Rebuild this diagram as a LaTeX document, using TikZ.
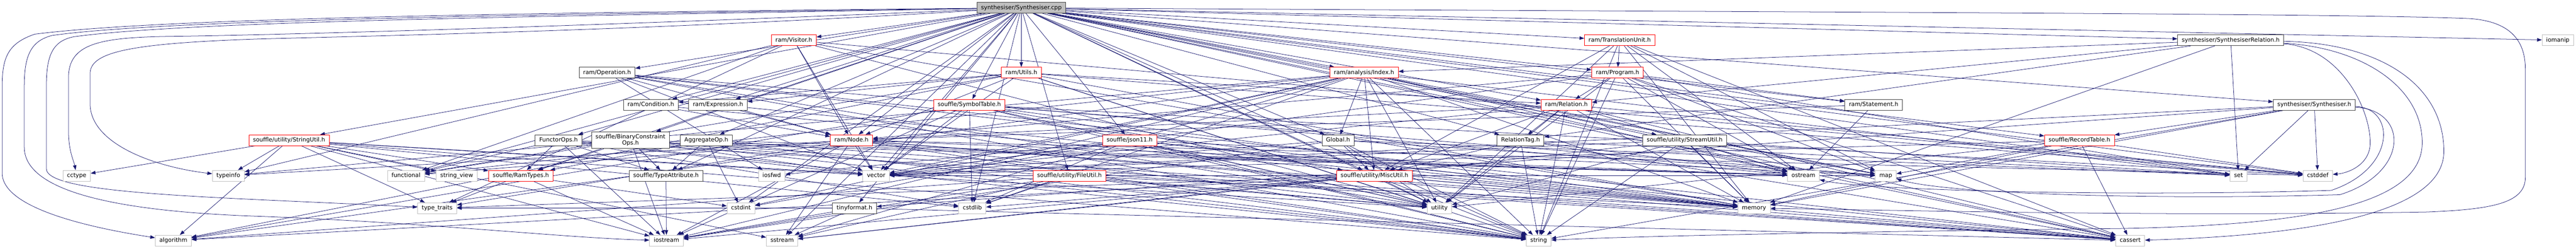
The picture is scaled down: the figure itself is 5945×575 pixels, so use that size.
\documentclass[tikz,border=0pt]{standalone}
\usepackage{fontspec}
\setmainfont{DejaVu Sans}
\usepackage{tikz}
\usetikzlibrary{arrows.meta}
\definecolor{edgeblue}{RGB}{25,25,112}
\definecolor{boxgrey}{RGB}{191,191,191}
\definecolor{boxdark}{RGB}{64,64,64}
\pgfdeclarelayer{edges}
\pgfsetlayers{edges,main}

\begin{document}
\begin{tikzpicture}[x=1pt,y=-1pt,
  file/.style={rectangle,draw,line width=1pt,fill=white,font=\fontsize{13.33}{15}\selectfont,
    inner xsep=9.5pt,inner ysep=2pt,minimum height=25pt,text height=10pt,text depth=3pt},
  rootfile/.style={file,draw=boxdark,fill=boxgrey},
  local/.style={file,draw=boxdark},
  trunc/.style={file,draw=red},
  sys/.style={file,draw=boxgrey},
  twoline/.style={local,align=center,text height={},text depth={},minimum height=39pt},
  link/.style={draw=edgeblue,line width=.9pt,-{Triangle[length=11pt,width=8pt]}},
  every edge/.style={link}]
\useasboundingbox (0,0) rectangle (5945,575);
% Files
\node at (2357,18) [rootfile] (Root) {synthesiser/Synthesiser.cpp};
\node at (1832,93) [trunc] (Visitor) {ram/Visitor.h};
\node at (3738,93) [trunc] (TransUnit) {ram/TranslationUnit.h};
\node at (5148,93) [local] (SynthRel) {synthesiser/SynthesiserRelation.h};
\node at (5903,93) [sys] (Iomanip) {iomanip};
\node at (1401,168) [local] (Operation) {ram/Operation.h};
\node at (2357,168) [trunc] (Utils) {ram/Utils.h};
\node at (3148,168) [trunc] (Index) {ram/analysis/Index.h};
\node at (3733,168) [trunc] (Program) {ram/Program.h};
\node at (1502,242) [local] (Condition) {ram/Condition.h};
\node at (1657,242) [local] (Expression) {ram/Expression.h};
\node at (2237,242) [trunc] (SymbolTable) {souffle/SymbolTable.h};
\node at (3615,242) [trunc] (Relation) {ram/Relation.h};
\node at (4324,242) [local] (Statement) {ram/Statement.h};
\node at (5341,242) [local] (SynthH) {synthesiser/Synthesiser.h};
\node at (667,324) [trunc] (StringUtil) {souffle/utility/StringUtil.h};
\node at (1289,324) [local] (FunctorOps) {FunctorOps.h};
\node at (1455,324) [twoline] (BinConstr) {souffle/BinaryConstraint\\Ops.h};
\node at (1630,324) [local] (AggregateOp) {AggregateOp.h};
\node at (1965,324) [trunc] (RamNode) {ram/Node.h};
\node at (2607,324) [trunc] (Json) {souffle/json11.h};
\node at (3088,324) [local] (Global) {Global.h};
\node at (3509,324) [local] (RelationTag) {RelationTag.h};
\node at (3888,324) [local] (StreamUtil) {souffle/utility/StreamUtil.h};
\node at (4799,324) [trunc] (RecordTable) {souffle/RecordTable.h};
\node at (177,406) [sys] (Cctype) {cctype};
\node at (527,406) [sys] (Typeinfo) {typeinfo};
\node at (937,406) [sys] (Functional) {functional};
\node at (1054,406) [sys] (StringView) {string\_view};
\node at (1202,406) [trunc] (RamTypes) {souffle/RamTypes.h};
\node at (1537,406) [local] (TypeAttr) {souffle/TypeAttribute.h};
\node at (1781,406) [sys] (Iosfwd) {iosfwd};
\node at (2022,406) [sys] (Vector) {vector};
\node at (2468,406) [trunc] (FileUtil) {souffle/utility/FileUtil.h};
\node at (3172,406) [trunc] (MiscUtil) {souffle/utility/MiscUtil.h};
\node at (4162,406) [sys] (Ostream) {ostream};
\node at (4352,406) [sys] (Map) {map};
\node at (5166,406) [sys] (Set) {set};
\node at (5349,406) [sys] (Cstddef) {cstddef};
\node at (1009,481) [sys] (TypeTraits) {type\_traits};
\node at (1710,481) [sys] (Cstdint) {cstdint};
\node at (1972,481) [local] (Tinyformat) {tinyformat.h};
\node at (2244,481) [sys] (Cstdlib) {cstdlib};
\node at (3322,481) [sys] (Utility) {utility};
\node at (4048,481) [sys] (Memory) {memory};
\node at (400,556) [sys] (Algorithm) {algorithm};
\node at (1538,556) [sys] (Iostream) {iostream};
\node at (1805,556) [sys] (Sstream) {sstream};
\node at (3551,556) [sys] (String) {string};
\node at (4916,556) [sys] (Cassert) {cassert};
% Includes
\begin{pgfonlayer}{edges}
\path (Root) edge (Visitor) edge (TransUnit) edge (SynthRel) edge (Iomanip) edge (Operation) edge (Utils) edge (Index) edge (Program) edge (Condition) edge (Expression) edge (SymbolTable) edge (Relation) edge (Statement) edge (SynthH) edge (StringUtil) edge (FunctorOps) edge (BinConstr) edge (AggregateOp) edge (RamNode) edge (Json) edge (Global) edge (RelationTag) edge (StreamUtil) edge (RecordTable) edge (Functional) edge (RamTypes) edge (TypeAttr) edge (Vector) edge (FileUtil) edge (MiscUtil) edge (Ostream) edge (Map) edge (Set) edge (Cstddef) edge (Cstdint) edge (Tinyformat) edge (Cstdlib) edge (Utility) edge (Sstream) edge (String) edge (Cassert);
% loops round the left and right sides
\draw[link] (Root) .. controls (1400,28) and (400,38) .. (80,79) .. controls (20,100) and (5,130) .. (5,200) -- (5,400) .. controls (5,480) and (200,525) .. (Algorithm);
\draw[link] (Root) .. controls (1400,32) and (400,42) .. (120,82) .. controls (70,95) and (56,130) .. (56,200) -- (56,340) .. controls (56,450) and (300,490) .. (600,500) .. controls (1000,515) and (1300,550) .. (Iostream);
\draw[link] (Root) .. controls (1400,36) and (450,46) .. (170,85) .. controls (120,95) and (107,130) .. (107,200) -- (107,390) .. controls (107,450) and (500,455) .. (TypeTraits);
\draw[link] (Root) .. controls (1500,55) and (700,80) .. (400,84) .. controls (230,86) and (158,100) .. (158,180) -- (158,300) .. controls (158,350) and (170,370) .. (Cctype);
\draw[link] (Root) .. controls (1500,70) and (900,82) .. (600,90) .. controls (300,100) and (208,120) .. (208,170) -- (208,240) .. controls (208,330) and (350,385) .. (Typeinfo);
\draw[link] (Root) .. controls (4000,28) and (5400,30) .. (5700,43) .. controls (5800,50) and (5828,100) .. (5828,160) -- (5828,410) .. controls (5828,470) and (5750,484) .. (5600,490) .. controls (5000,500) and (4500,488) .. (Memory);
\draw[link] (SynthRel) .. controls (5400,110) and (5470,250) .. (5470,330) .. controls (5470,380) and (5420,400) .. (Cstddef);
\draw[link] (SynthH) .. controls (5530,250) and (5530,390) .. (5380,440) .. controls (4900,455) and (4300,440) .. (Ostream);
\draw[link] (SynthH) .. controls (5560,255) and (5560,400) .. (5400,450) .. controls (5000,462) and (4500,450) .. (Map);
\draw[link] (SynthRel) .. controls (5450,110) and (5590,200) .. (5590,330) .. controls (5590,480) and (5300,520) .. (4900,528) .. controls (4300,535) and (3800,545) .. (String);
\draw[link] (SynthRel) .. controls (5500,100) and (5640,200) .. (5640,350) .. controls (5640,500) and (5300,545) .. (Cassert);
% headers
\path (Visitor) edge (RamNode) edge (Typeinfo) edge (Functional) edge (Vector) edge (Memory) edge (Utility) edge (Cstddef) edge (TypeTraits);
\path (TransUnit) edge (Program) edge (MiscUtil) edge (Memory) edge (Map) edge (String) edge (Cassert) edge (Utility) edge (Ostream);
\path (SynthRel) edge (Index) edge (Relation) edge (Set) edge (RelationTag) edge (Memory);
\path (Operation) edge (RamNode) edge (Iosfwd) edge (Memory) edge (Ostream) edge (String) edge (Utility) edge (Vector) edge (Cassert);
\path (Utils) edge (Condition) edge (Expression) edge (RamNode) edge (Relation) edge (Functional) edge (Vector) edge (Memory) edge (Utility) edge (String) edge (Cstddef) edge (Algorithm);
\path (Index) edge (Global) edge (MiscUtil) edge (Algorithm) edge (Cassert) edge (Cstdint) edge (Cstdlib) edge (Functional) edge (Iostream) edge (Map) edge (Memory) edge (Ostream) edge (Set) edge (Sstream) edge (String) edge (Utility) edge (Vector) edge (Typeinfo);
\path (Program) edge (Relation) edge (Statement) edge (RamNode) edge (Ostream) edge (Memory) edge (Map) edge (String) edge (Utility) edge (Vector) edge (Cassert) edge (Set);
\path (Condition) edge (RamNode) edge (Memory);
\path (Expression) edge (RamNode) edge (Memory);
\path (SymbolTable) edge (Vector) edge (MiscUtil) edge (Cstdlib) edge (Iostream) edge (String) edge (Utility) edge (Memory) edge (Map) edge (Algorithm) edge (Cstddef);
\path (Relation) edge (RelationTag) edge (RamNode) edge (MiscUtil) edge (Memory) edge (Ostream) edge (String) edge (Utility) edge (Vector) edge (Cassert) edge (Cstddef);
\path (Statement) edge (RamNode) edge (Ostream);
\path (SynthH) edge (RecordTable) edge (Set) edge (Cstddef) edge (Tinyformat) edge (Memory) edge (String) edge (Vector);
\path (StringUtil) edge (Cctype) edge (Typeinfo) edge (Algorithm) edge (RamTypes) edge (TypeTraits) edge (StringView) edge (Sstream) edge (String) edge (Vector) edge (Utility) edge (Iostream) edge (Cstdlib);
\path (FunctorOps) edge (RamTypes) edge (TypeAttr) edge (Cassert) edge (Cstdlib) edge (Functional) edge (Iostream) edge (Ostream) edge (String) edge (Vector);
\path (BinConstr) edge (RamTypes) edge (TypeAttr) edge (Iostream) edge (Cassert) edge (Ostream) edge (String) edge (Vector) edge (Utility) edge (Functional);
\path (AggregateOp) edge (RamTypes) edge (TypeAttr) edge (Cstdint) edge (Cassert) edge (String) edge (Ostream);
\path (RamNode) edge (Vector) edge (Cassert) edge (Functional) edge (Iostream) edge (Memory) edge (Ostream) edge (Sstream) edge (String) edge (Typeinfo) edge (Utility) edge (Cstddef) edge (TypeTraits);
\path (Json) edge (Map) edge (Memory) edge (String) edge (Utility) edge (Vector) edge (Cassert) edge (Cstdlib) edge (Cstdint) edge (Iosfwd);
\path (Global) edge (MiscUtil) edge (Map) edge (Set) edge (String) edge (Utility) edge (Vector) edge (Iostream);
\path (RelationTag) edge (MiscUtil) edge (Ostream) edge (Cassert) edge (String) edge (Set);
\path (StreamUtil) edge (Ostream) edge (Memory) edge (String) edge (Map) edge (Set) edge (Utility) edge (Vector) edge (Sstream);
\path (RecordTable) edge (Cassert) edge (Cstddef) edge (Map) edge (Memory) edge (Utility) edge (Vector);
\path (MiscUtil) edge (Utility) edge (String) edge (Algorithm) edge (Cassert) edge (Cstdlib) edge (Iostream) edge (Memory) edge (Sstream) edge (TypeTraits) edge (Vector);
\path (FileUtil) edge (Cstdlib) edge (String) edge (Map) edge (Sstream) edge (Utility) edge (Algorithm) edge (Iostream) edge (Memory);
\path (RamTypes) edge (Cstdint) edge (Iostream) edge (TypeTraits);
\path (TypeAttr) edge (Iostream);
\path (Tinyformat) edge (TypeTraits) edge (Iostream) edge (Sstream) edge (Cassert);
\end{pgfonlayer}
\end{tikzpicture}
\end{document}
